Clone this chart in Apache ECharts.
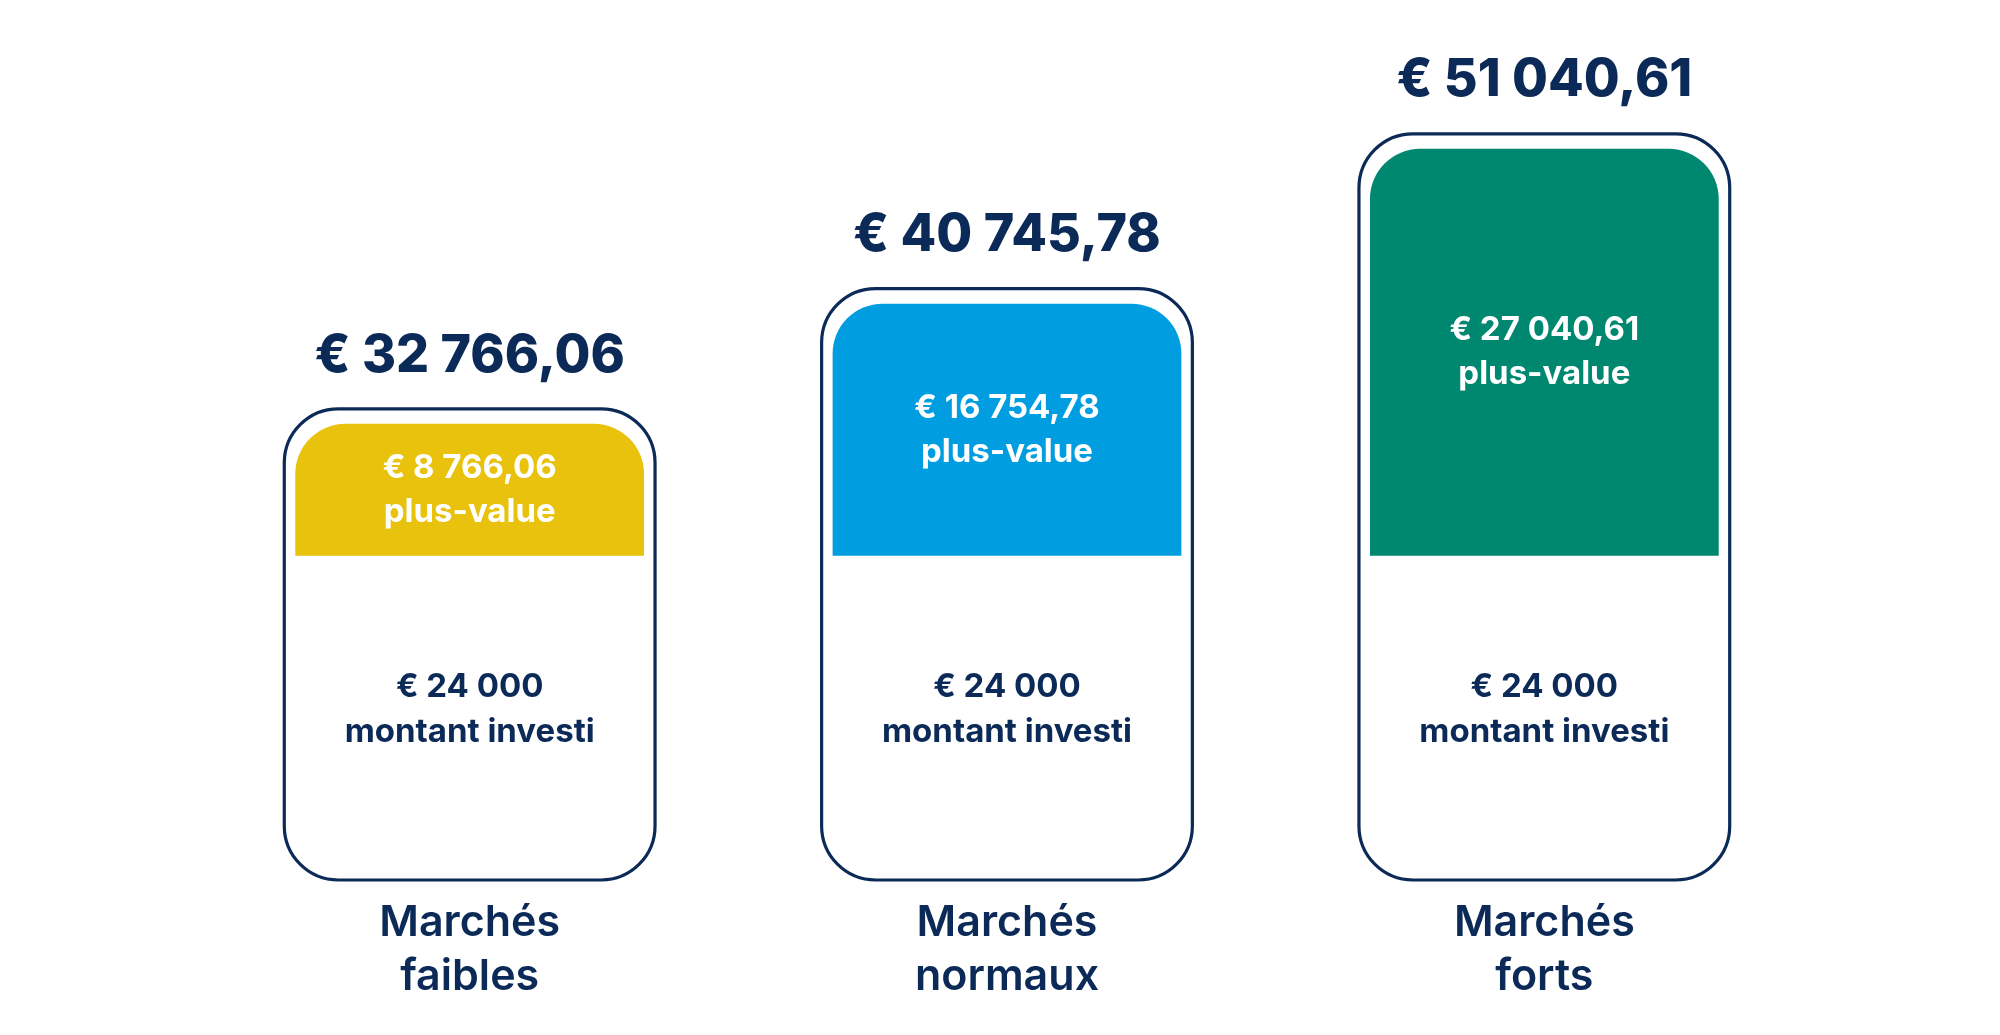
<!DOCTYPE html>
<html>
<head>
<meta charset="utf-8">
<script src="https://cdn.jsdelivr.net/npm/echarts@6/dist/echarts.min.js"></script>
<style>
  html, body { margin: 0; padding: 0; background: #fff; }
  #container { width: 2000px; height: 1035px; }
</style>
</head>
<body>
<div id="container"></div>
<script>
// scenario data
var categories = ['Marchés\nfaibles', 'Marchés\nnormaux', 'Marchés\nforts'];
var invested = [24000, 24000, 24000];
var gains = [8766.06, 16754.78, 27040.61];
var totals = [32766.06, 40745.78, 51040.61];
var gainColors = ['#e8c20c', '#009ee0', '#008770'];

var navy = '#0c2a57';
var fontFamily = 'Inter, "Noto Sans", sans-serif';

function euro(v) {
    var neg = v < 0;
    var s = Math.abs(v).toFixed(2).split('.');
    var intPart = s[0].replace(/\B(?=(\d{3})+(?!\d))/g, ' ');
    var out = '€ ' + intPart;
    if (s[1] !== '00') out += ',' + s[1];
    return (neg ? '-' : '') + out;
}

var rows = categories.map(function (c, i) {
    return [i, invested[i], gains[i], totals[i]];
});

function renderCard(params, api) {
    var i = api.value(0);
    var inv = api.value(1);
    var gain = api.value(2);
    var total = api.value(3);
    var zero = api.coord([i, 0]);
    var mid = api.coord([i, inv]);
    var top = api.coord([i, inv + gain]);
    var bandW = api.size([1, 0])[0];
    var w = bandW * 0.69;
    var x = zero[0] - w / 2;
    var cardBottom = zero[1] - 37;
    var cardTop = top[1] - 15;
    var pad = 11;

    return {
        type: 'group',
        children: [
            {
                type: 'rect',
                shape: { x: x, y: cardTop, width: w, height: cardBottom - cardTop, r: 54 },
                style: { fill: '#fff', stroke: navy, lineWidth: 3.2 }
            },
            {
                type: 'rect',
                shape: { x: x + pad, y: top[1], width: w - pad * 2, height: mid[1] - top[1], r: [50, 50, 0, 0] },
                style: { fill: gainColors[i] }
            },
            {
                type: 'text',
                x: zero[0],
                y: (top[1] + mid[1]) / 2,
                style: {
                    text: euro(gain) + '\nplus-value',
                    fill: '#fff',
                    font: '700 33px ' + fontFamily,
                    lineHeight: 44,
                    align: 'center',
                    verticalAlign: 'middle'
                }
            },
            {
                type: 'text',
                x: zero[0],
                y: (mid[1] + cardBottom) / 2 - 8,
                style: {
                    text: euro(inv) + '\nmontant investi',
                    fill: navy,
                    font: '700 33px ' + fontFamily,
                    lineHeight: 45,
                    align: 'center',
                    verticalAlign: 'middle'
                }
            },
            {
                type: 'text',
                x: zero[0],
                y: cardTop - 53,
                style: {
                    text: euro(total),
                    fill: navy,
                    font: '800 52px ' + fontFamily,
                    align: 'center',
                    verticalAlign: 'middle'
                }
            }
        ]
    };
}

var myChart = echarts.init(document.getElementById('container'));
var option = {
    backgroundColor: '#fff',
    animation: false,
    grid: { left: 201, right: 187, top: 14, bottom: 118 },
    xAxis: {
        type: 'category',
        data: categories,
        axisLine: { show: false },
        axisTick: { show: false },
        axisLabel: {
            margin: -21,
            color: navy,
            fontSize: 43,
            fontWeight: 600,
            fontFamily: fontFamily,
            lineHeight: 54
        }
    },
    yAxis: {
        type: 'value',
        min: 0,
        max: 60000,
        show: false
    },
    series: [{
        type: 'custom',
        renderItem: renderCard,
        data: rows,
        encode: { x: 0, y: [1, 3] }
    }]
};
myChart.setOption(option);
</script>
</body>
</html>
